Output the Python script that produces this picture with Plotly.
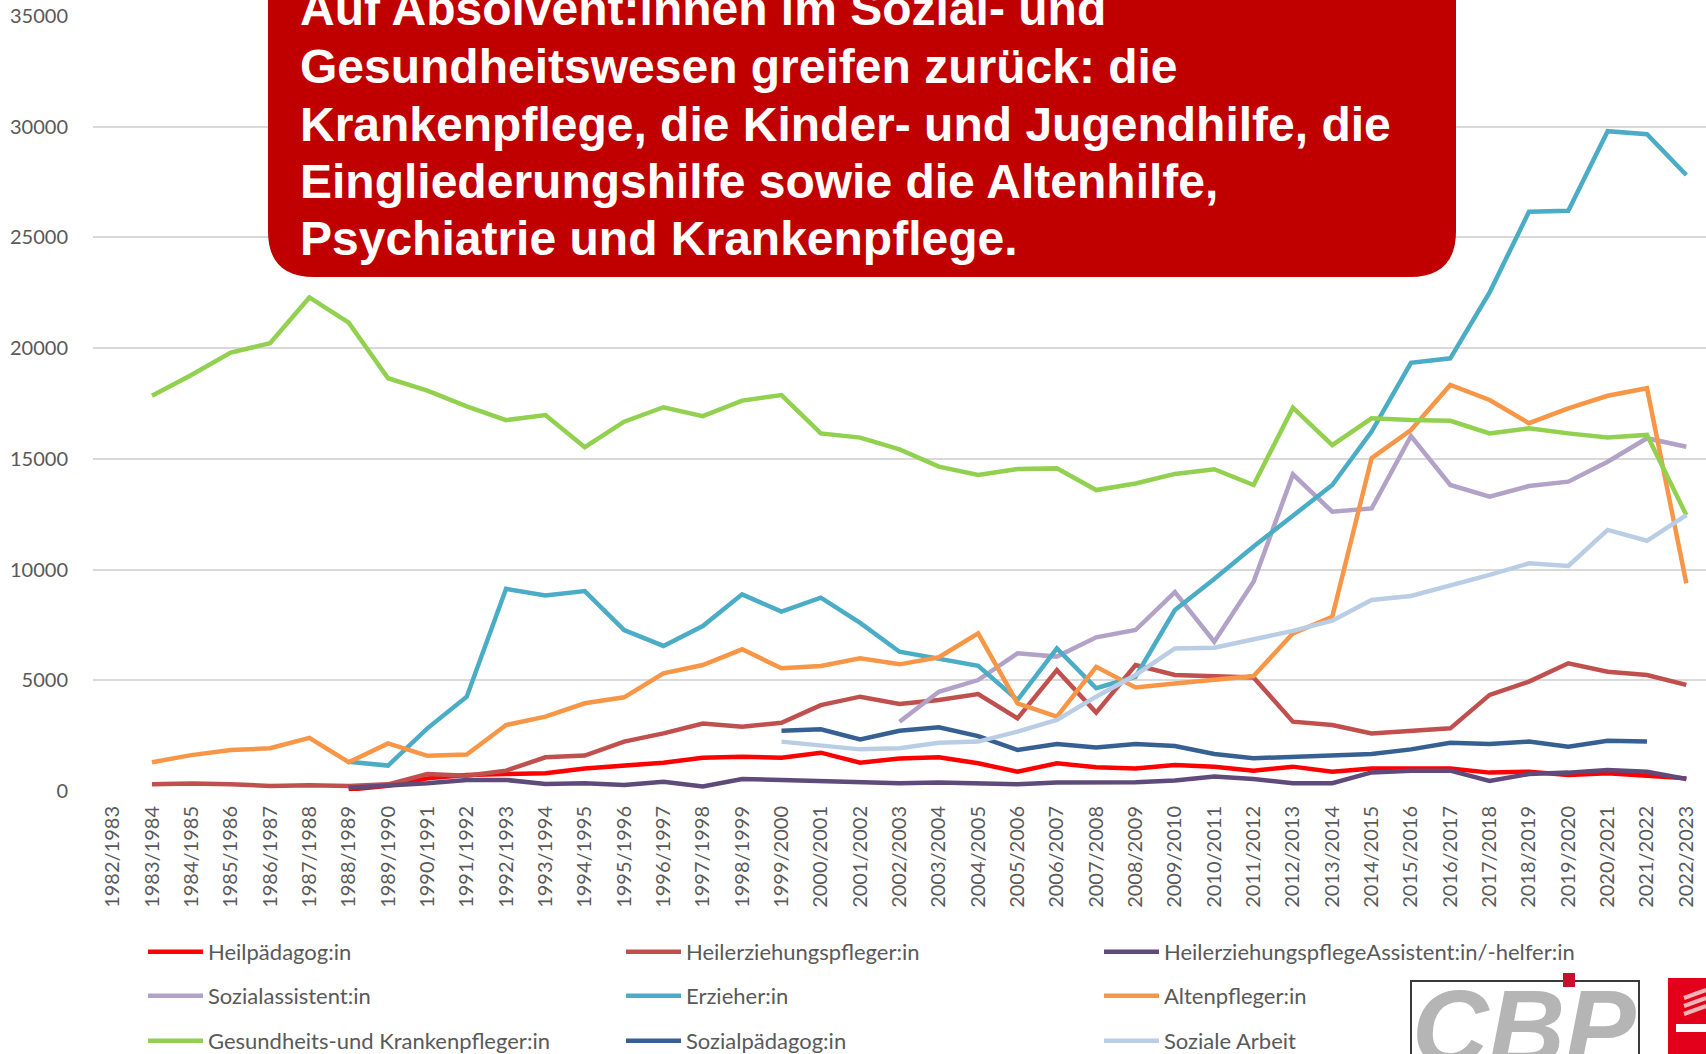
import plotly.graph_objects as go

years = ["1982/1983", "1983/1984", "1984/1985", "1985/1986", "1986/1987", "1987/1988",
         "1988/1989", "1989/1990", "1990/1991", "1991/1992", "1992/1993", "1993/1994",
         "1994/1995", "1995/1996", "1996/1997", "1997/1998", "1998/1999", "1999/2000",
         "2000/2001", "2001/2002", "2002/2003", "2003/2004", "2004/2005", "2005/2006",
         "2006/2007", "2007/2008", "2008/2009", "2009/2010", "2010/2011", "2011/2012",
         "2012/2013", "2013/2014", "2014/2015", "2015/2016", "2016/2017", "2017/2018",
         "2018/2019", "2019/2020", "2020/2021", "2021/2022", "2022/2023"]

N = None
heilpaedagog = [N, N, N, N, N, N, 60, 240, 570, 720, 770, 800, 1020, 1130, 1280, 1500,
                1550, 1500, 1730, 1280, 1470, 1520, 1250, 870, 1250, 1070, 1020, 1170,
                1100, 920, 1100, 870, 1020, 1020, 1020, 830, 870, 720, 800, 690, 570]
heilerziehungspfleger = [N, 300, 340, 300, 230, 260, 230, 300, 770, 690, 920, 1520, 1600,
                         2230, 2600, 3050, 2900, 3080, 3880, 4260, 3930, 4110, 4380, 3280,
                         5460, 3540, 5690, 5240, 5190, 5130, 3130, 2980, 2600, 2720, 2830,
                         4340, 4940, 5770, 5390, 5240, 4790]
hep_assistent = [N, N, N, N, N, N, 150, 230, 350, 500, 500, 320, 350, 270, 420, 200, 540,
                 500, 450, 450, 350, 380, 350, 300, 380, 380, 400, 470, 650, 540, 350, 350,
                 840, 920, 920, 450, 770, 830, 950, 870, 540]
sozialassistent = [N] * 20 + [3130, 4480, 5010, 6220, 6070, 6940, 7270, 8980, 6740, 9450,
                              14300, 12610, 12760, 16030, 13820, 13290, 13770, 13970, 14870,
                              15930, 15550]
erzieher = [N, N, N, N, N, N, 1320, 1150, 2830, 4260, 9130, 8830, 9030, 7270, 6550, 7450,
            8880, 8100, 8730, 7590, 6290, 5990, 5650, 4110, 6440, 4640, 5160, 8170, 9570,
            11040, 12400, 13820, 16230, 19340, 19540, 22520, 26160, 26200, 29800, 29660, 27820]
altenpfleger = [N, 1300, 1620, 1850, 1930, 2400, 1300, 2150, 1590, 1650, 2980, 3360, 3960,
                4230, 5310, 5690, 6400, 5540, 5650, 5990, 5720, 6040, 7120, 3960, 3360, 5610,
                4680, 4860, 5040, 5190, 7120, 7870, 15030, 16300, 18340, 17660, 16610, 17280,
                17850, 18190, 9380]
gesundheit = [N, 17850, 18790, 19800, 20220, 22290, 21150, 18640, 18080, 17370, 16750, 16980,
              15530, 16680, 17330, 16930, 17630, 17880, 16150, 15960, 15430, 14650, 14270,
              14540, 14570, 13590, 13890, 14320, 14530, 13820, 17310, 15620, 16830, 16750,
              16720, 16150, 16380, 16150, 15960, 16080, 12460]
sozialpaedagog = [N] * 17 + [2720, 2790, 2330, 2720, 2880, 2480, 1850, 2120, 1970, 2120, 2030,
                             1670, 1480, 1550, 1600, 1670, 1880, 2180, 2120, 2230, 2000, 2270,
                             2230, N]
soziale_arbeit = [N] * 17 + [2230, 2030, 1880, 1930, 2180, 2230, 2680, 3210, 4260, 5240, 6440,
                             6470, 6850, 7230, 7690, 8630, 8810, 9260, 9760, 10280, 10160,
                             11790, 11300, 12460]

series_names = ["Heilpädagog:in", "Heilerziehungspfleger:in",
                "HeilerziehungspflegeAssistent:in/-helfer:in", "Sozialassistent:in",
                "Erzieher:in", "Altenpfleger:in", "Gesundheits-und Krankenpfleger:in",
                "Sozialpädagog:in", "Soziale Arbeit"]
series_values = [heilpaedagog, heilerziehungspfleger, hep_assistent, sozialassistent,
                 erzieher, altenpfleger, gesundheit, sozialpaedagog, soziale_arbeit]
series_colors = ["#FF0000", "#C0504D", "#604A7B", "#B3A2C7", "#4BACC6", "#F79646",
                 "#92D050", "#376092", "#B9CDE5"]
legend_ids = ["legend", "legend", "legend", "legend2", "legend2", "legend2",
              "legend3", "legend3", "legend3"]

y_ticks = [0, 5000, 10000, 15000, 20000, 25000, 30000, 35000]

title_lines = ["Auf Absolvent:innen im Sozial- und",
               "Gesundheitswesen greifen zurück: die",
               "Krankenpflege, die Kinder- und Jugendhilfe, die",
               "Eingliederungshilfe sowie die Altenhilfe,",
               "Psychiatrie und Krankenpflege."]

# screen geometry (page body margin is removed by a small post script)
OFF = 0
SW, SH = 1706, 1054
W, H = SW - OFF, SH - OFF
PLOT_L, PLOT_R, PLOT_T, PLOT_B = 93, 1706, 16, 791  # screen px
ML, MR, MT, MB = PLOT_L - OFF, SW - PLOT_R, PLOT_T - OFF, SH - PLOT_B
PW = PLOT_R - PLOT_L
PH = PLOT_B - PLOT_T


def px_x(x):
    return (x - PLOT_L) / PW


def px_y(y):
    return (PLOT_B - y) / PH


def cont_x(x):
    return (x - OFF) / W


def cont_y(y):
    return 1 - (y - OFF) / H


TXT = "#595959"
FONT = "Lato, 'Open Sans', sans-serif"

fig = go.Figure()
for name, vals, col, lg in zip(series_names, series_values, series_colors, legend_ids):
    fig.add_trace(go.Scatter(
        x=years, y=vals, name=name, mode="lines",
        line=dict(color=col, width=4.5),
        connectgaps=False, legend=lg, hoverinfo="x+y+name"))

legend_common = dict(orientation="h", xref="container", yref="container",
                     xanchor="left", yanchor="middle", entrywidth=408,
                     entrywidthmode="pixels", itemwidth=55, bgcolor="rgba(0,0,0,0)",
                     font=dict(family=FONT, size=22, color=TXT), traceorder="normal")

fig.update_layout(
    width=W, height=H,
    margin=dict(l=ML, r=MR, t=MT, b=MB, pad=0, autoexpand=False),
    paper_bgcolor="white", plot_bgcolor="white",
    showlegend=True,
    legend=dict(x=cont_x(143), y=cont_y(952), **legend_common),
    legend2=dict(x=cont_x(143), y=cont_y(996), **legend_common),
    legend3=dict(x=cont_x(143), y=cont_y(1041), **legend_common),
    xaxis=dict(type="category", range=[-0.5, len(years) - 0.5], tickangle=-90,
               showgrid=False, zeroline=False, showline=False, ticks="",
               tickfont=dict(family=FONT, size=20, color=TXT), ticklabelstandoff=10),
    yaxis=dict(range=[0, 35000], tickvals=y_ticks, tickformat=".0f",
               showgrid=True, gridcolor="#D9D9D9", gridwidth=1.5, zeroline=False,
               showline=False, ticks="", ticklabelstandoff=24,
               ticklabeloverflow="allow",
               tickfont=dict(family=FONT, size=20, color=TXT)),
)

# red rounded title box (top is cut off by the page edge)
x0, x1 = px_x(268), px_x(1456)
yb, yt = px_y(277), px_y(-90)
rx, ry = 46 / PW, 46 / PH
path = (f"M{x0+rx},{yt} L{x1-rx},{yt} Q{x1},{yt} {x1},{yt-ry} L{x1},{yb+ry} "
        f"Q{x1},{yb} {x1-rx},{yb} L{x0+rx},{yb} Q{x0},{yb} {x0},{yb+ry} "
        f"L{x0},{yt-ry} Q{x0},{yt} {x0+rx},{yt} Z")
fig.add_shape(type="path", path=path, xref="paper", yref="paper",
              fillcolor="#C00000", line=dict(width=0), layer="above")

centers = [8, 66, 124, 181, 239]
for line, cy in zip(title_lines, centers):
    fig.add_annotation(text=f"<b>{line}</b>", xref="paper", yref="paper",
                       x=px_x(298), y=px_y(cy), xanchor="left", yanchor="middle",
                       showarrow=False,
                       font=dict(family="'Liberation Sans', Arial, sans-serif", size=48,
                                 color="white"))

# logos (bottom right)
fig.add_shape(type="rect", xref="paper", yref="paper",
              x0=px_x(1411), x1=px_x(1639), y0=px_y(1075), y1=px_y(981),
              line=dict(color="#3a3a3a", width=2), fillcolor="rgba(0,0,0,0)", layer="above")
fig.add_annotation(text="<b><i>CBP</i></b>", xref="paper", yref="paper",
                   x=px_x(1410), y=px_y(1027), xanchor="left", yanchor="middle",
                   showarrow=False,
                   font=dict(family="'Liberation Sans', Arial, sans-serif", size=106,
                             color="#B5B5B5"))
fig.add_shape(type="rect", xref="paper", yref="paper",
              x0=px_x(1563), x1=px_x(1575), y0=px_y(987), y1=px_y(973),
              line=dict(width=0), fillcolor="#C8102E", layer="above")
fig.add_shape(type="rect", xref="paper", yref="paper",
              x0=px_x(1668), x1=px_x(1720), y0=px_y(1075), y1=px_y(978),
              line=dict(width=0), fillcolor="#E2001A", layer="above")
for k in range(3):
    fig.add_shape(type="line", xref="paper", yref="paper",
                  x0=px_x(1684), x1=px_x(1706), y0=px_y(998 + 8 * k), y1=px_y(990 + 8 * k),
                  line=dict(color="#F6B3B3", width=4), layer="above")
fig.add_shape(type="rect", xref="paper", yref="paper",
              x0=px_x(1676), x1=px_x(1706), y0=px_y(1032), y1=px_y(1024),
              line=dict(width=0), fillcolor="white", layer="above")

fig.write_html("out.html", config={"displayModeBar": False},
               post_script="document.body.style.margin='0';document.body.style.overflow='hidden';")
